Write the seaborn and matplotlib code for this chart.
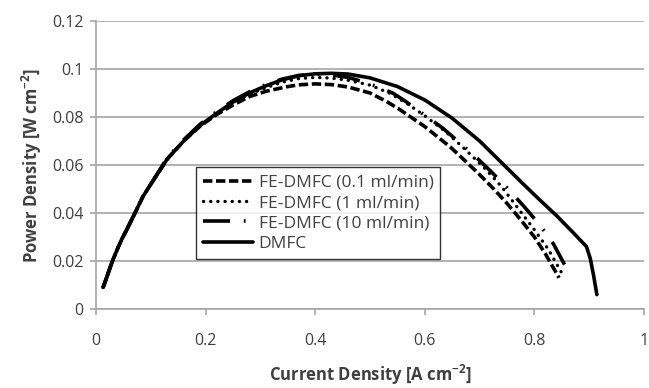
import matplotlib
matplotlib.use("Agg")
import matplotlib.pyplot as plt
import seaborn as sns
import numpy as np
import pandas as pd
from matplotlib.ticker import FuncFormatter

# ---- data ----
x_fe01 = [0.013, 0.02, 0.03, 0.04, 0.048, 0.056, 0.07, 0.086, 0.10, 0.13, 0.16, 0.19, 0.22, 0.25, 0.28, 0.31, 0.348, 0.37,
          0.40, 0.43, 0.46, 0.50, 0.53, 0.555, 0.60, 0.646, 0.67, 0.70, 0.725, 0.75, 0.775, 0.80, 0.82, 0.845]
y_fe01 = [0.009, 0.0135, 0.020, 0.0255, 0.0295, 0.033, 0.0395, 0.047, 0.052, 0.0625, 0.070, 0.0762, 0.0810, 0.0850, 0.0885, 0.0907, 0.0926, 0.0934,
          0.0938, 0.0935, 0.0925, 0.0900, 0.0865, 0.0830, 0.0760, 0.0676, 0.0625, 0.0560, 0.0502, 0.0440, 0.0372, 0.0300, 0.0230, 0.0130]

x_fe1 = [0.013, 0.02, 0.03, 0.04, 0.048, 0.056, 0.07, 0.086, 0.10, 0.13, 0.16, 0.19, 0.22, 0.25, 0.28, 0.31, 0.34, 0.37,
         0.40, 0.43, 0.46, 0.50, 0.535, 0.567, 0.60, 0.64, 0.676, 0.71, 0.74, 0.77, 0.80, 0.825, 0.85]
y_fe1 = [0.009, 0.0135, 0.020, 0.0255, 0.0295, 0.033, 0.0395, 0.047, 0.052, 0.0625, 0.070, 0.0765, 0.0815, 0.0862, 0.0895, 0.0922, 0.0945, 0.0960,
         0.0965, 0.0962, 0.0953, 0.0933, 0.0900, 0.0857, 0.0805, 0.0735, 0.0660, 0.0585, 0.0510, 0.0420, 0.0330, 0.0250, 0.0150]

x_fe10 = [0.013, 0.02, 0.03, 0.04, 0.048, 0.056, 0.07, 0.086, 0.10, 0.13, 0.16, 0.19, 0.22, 0.25, 0.28, 0.31, 0.34, 0.37,
          0.40, 0.43, 0.46, 0.487, 0.515, 0.542, 0.565, 0.591, 0.61, 0.633, 0.66, 0.69, 0.72, 0.75, 0.78, 0.81, 0.835, 0.855]
y_fe10 = [0.009, 0.0135, 0.020, 0.0255, 0.0295, 0.033, 0.0395, 0.047, 0.052, 0.0630, 0.0705, 0.0770, 0.0822, 0.0868, 0.0905, 0.0935, 0.0958, 0.0973,
          0.0978, 0.0975, 0.0965, 0.0947, 0.0925, 0.0899, 0.0865, 0.0822, 0.0792, 0.0753, 0.0700, 0.0640, 0.0575, 0.0505, 0.0430, 0.0350, 0.0270, 0.0185]

x_dmfc = [0.013, 0.02, 0.03, 0.04, 0.048, 0.056, 0.07, 0.086, 0.10, 0.13, 0.16, 0.19, 0.22, 0.25, 0.28, 0.31, 0.34, 0.37,
          0.40, 0.43, 0.46, 0.50, 0.55, 0.60, 0.65, 0.70, 0.74, 0.78, 0.81, 0.84, 0.87, 0.895, 0.902, 0.908, 0.914]
y_dmfc = [0.009, 0.0135, 0.020, 0.0255, 0.0295, 0.033, 0.0395, 0.047, 0.052, 0.0625, 0.070, 0.0765, 0.0815, 0.0862, 0.0900, 0.0930, 0.0955, 0.0972,
          0.0980, 0.0982, 0.0979, 0.0963, 0.0927, 0.0871, 0.0795, 0.0700, 0.0610, 0.0520, 0.0454, 0.0390, 0.0320, 0.0260, 0.0210, 0.0140, 0.0060]

labels = ["FE-DMFC (0.1 ml/min)", "FE-DMFC (1 ml/min)", "FE-DMFC (10 ml/min)", "DMFC"]
x_ticks = [0, 0.2, 0.4, 0.6, 0.8, 1.0]
y_ticks = [0, 0.02, 0.04, 0.06, 0.08, 0.10, 0.12]

# ---- style ----
sns.set_style("white")
plt.rcParams['font.family'] = ['Open Sans', 'DejaVu Sans']
plt.rcParams['mathtext.fontset'] = 'custom'
plt.rcParams['mathtext.rm'] = 'Open Sans'
plt.rcParams['mathtext.bf'] = 'Open Sans:bold'

fig = plt.figure(figsize=(6.49, 3.88), dpi=100)
ax = fig.add_axes([96/649, 1 - 309/388, (644 - 96)/649, (309 - 21)/388])

grid_c = "#a6a6a6"
text_c = "#404040"

series = [
    (x_fe01, y_fe01, labels[0], (0, (2.6, 1.0)), 2.6, "butt"),
    (x_fe1, y_fe1, labels[1], (0, (0.05, 2.1)), 2.4, "round"),
    (x_fe10, y_fe10, labels[2], (0, (7.5, 3.8, 0.5, 3.8)), 2.6, "butt"),
    (x_dmfc, y_dmfc, labels[3], "-", 2.6, "butt"),
]
for xs, ys, lab, ls, lw, cap in series:
    df = pd.DataFrame({"x": xs, "y": ys})
    sns.lineplot(data=df, x="x", y="y", ax=ax, color="black", linestyle=ls,
                 linewidth=lw, sort=False, estimator=None, label=lab,
                 solid_capstyle="round", dash_capstyle=cap, solid_joinstyle="round")

ax.set_xlim(0, 1)
ax.set_ylim(0, 0.12)
ax.set_xticks(x_ticks)
ax.set_yticks(y_ticks)
fmt = FuncFormatter(lambda v, p: f"{v:g}")
ax.xaxis.set_major_formatter(fmt)
ax.yaxis.set_major_formatter(fmt)

ax.yaxis.grid(True, color=grid_c, linewidth=1.2)
ax.xaxis.grid(False)
ax.set_axisbelow(True)
for s in ["top", "right"]:
    ax.spines[s].set_visible(False)
for s in ["left", "bottom"]:
    ax.spines[s].set_color(grid_c)
    ax.spines[s].set_linewidth(1.2)

ax.tick_params(axis="both", which="major", direction="out", length=4,
               width=1.2, color=grid_c, labelsize=11.5, labelcolor=text_c)
ax.tick_params(axis="x", pad=13)
ax.tick_params(axis="y", pad=5)
ax.tick_params(left=True, bottom=True)

ax.set_xlabel("Current Density [A cm$\\mathbf{^{-2}}$]", fontsize=12, fontweight="bold",
              color=text_c, labelpad=10)
ax.set_ylabel("Power Density [W cm$\\mathbf{^{-2}}$]", fontsize=12, fontweight="bold",
              color=text_c, labelpad=6)

leg = ax.legend(loc="lower left", bbox_to_anchor=(0.1825, 0.1736), borderaxespad=0,
                frameon=True, fancybox=False, edgecolor="black", fontsize=12.5,
                handlelength=2.9, handletextpad=0.3, labelspacing=0.25,
                borderpad=0.4)
leg.get_frame().set_linewidth(1.0)
for t in leg.get_texts():
    t.set_color(text_c)

fig.savefig("out.png", dpi=100)
